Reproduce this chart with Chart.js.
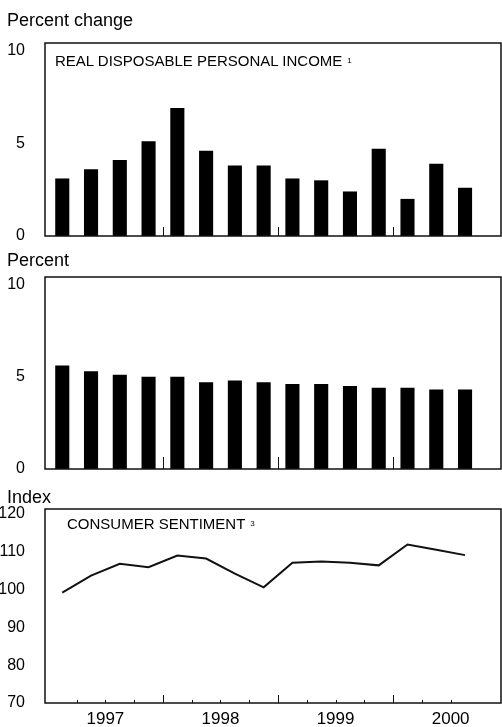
<!DOCTYPE html>
<html>
<head>
<meta charset="utf-8">
<script src="https://cdn.jsdelivr.net/npm/chart.js@4"></script>
<style>
  body { margin: 0; background: #fff; overflow: hidden; }
  #wrap { position: relative; width: 502px; height: 727px; font-family: 'Liberation Sans', Arial, sans-serif; color: #000; }
  #wrap canvas { position: absolute; left: 0; }
  .hdr { position: absolute; left: 7px; font-size: 18px; line-height: 18px; white-space: nowrap; }
  .inner { position: absolute; font-size: 15px; line-height: 15px; white-space: nowrap; }
  .inner span { font-size: 8px; vertical-align: top; margin-left: 5px; }
</style>
</head>
<body>
<div id="wrap">
  <canvas id="income" width="502" height="250" style="top:0"></canvas>
  <canvas id="unemp" width="502" height="250" style="top:240px"></canvas>
  <canvas id="sentiment" width="502" height="247" style="top:480px"></canvas>
  <div class="hdr" style="top:11px">Percent change</div>
  <div class="hdr" style="top:251px">Percent</div>
  <div class="hdr" style="top:488px">Index</div>
  <div class="inner" style="left:55px;top:53px">REAL DISPOSABLE PERSONAL INCOME<span>1</span></div>
  <div class="inner" style="left:67px;top:516px">CONSUMER SENTIMENT<span>3</span></div>
</div>
<script>
// quarterly data, 1997 Q1 - 2000 Q3
const quarters = ['1997 Q1', '1997 Q2', '1997 Q3', '1997 Q4',
                  '1998 Q1', '1998 Q2', '1998 Q3', '1998 Q4',
                  '1999 Q1', '1999 Q2', '1999 Q3', '1999 Q4',
                  '2000 Q1', '2000 Q2', '2000 Q3'];
const years = ['1997', '1998', '1999', '2000'];
const incomeChange = [3.1, 3.6, 4.1, 5.1, 6.9, 4.6, 3.8, 3.8, 3.1, 3.0, 2.4, 4.7, 2.0, 3.9, 2.6];
const unemployment = [5.6, 5.3, 5.1, 5.0, 5.0, 4.7, 4.8, 4.7, 4.6, 4.6, 4.5, 4.4, 4.4, 4.3, 4.3];
const sentiment = [99.2, 103.7, 106.8, 105.9, 109.0, 108.2, 104.2, 100.6, 107.1, 107.4, 107.1, 106.4, 111.9, 110.5, 109.1];
const percentTicks = [0, 5, 10];
const indexTicks = [70, 80, 90, 100, 110, 120];

const FONT = "'Liberation Sans', Arial, sans-serif";

function points(values) {
    return quarters.map((q, i) => ({ x: i + 0.5, y: values[i] }));
}

// frame round the plot area plus small tick marks at quarter / year boundaries
const framePlugin = {
    id: 'frame',
    afterDraw(chart, args, opts) {
        const { ctx, chartArea: a, scales } = chart;
        const xs = scales.x;
        ctx.save();
        ctx.strokeStyle = '#111';
        ctx.lineWidth = 1.5;
        ctx.strokeRect(a.left, a.top, a.right - a.left, a.bottom - a.top);
        ctx.lineWidth = 1;
        for (let q = 1; q < quarters.length; q++) {
            const len = q % 4 === 0 ? opts.yearTick : opts.quarterTick;
            if (!len) continue;
            const px = Math.round(xs.getPixelForValue(q)) + 0.5;
            ctx.beginPath();
            ctx.moveTo(px, a.bottom);
            ctx.lineTo(px, a.bottom - len);
            ctx.stroke();
        }
        ctx.restore();
    }
};

function makeChart(id, type, values, yMin, yMax, yTicks, padding, showYears, tickLens) {
    const ds = type === 'bar'
        ? { data: points(values), backgroundColor: '#000', borderWidth: 0,
            barPercentage: 0.49, categoryPercentage: 1 }
        : { data: points(values), borderColor: '#111', borderWidth: 2,
            pointRadius: 0, tension: 0, fill: false };
    return new Chart(document.getElementById(id), {
        type: type,
        data: { datasets: [ds] },
        options: {
            responsive: false,
            animation: false,
            layout: { padding: padding },
            plugins: { legend: { display: false }, tooltip: { enabled: false }, frame: tickLens },
            scales: {
                x: {
                    type: 'linear',
                    offset: false,
                    min: -0.1,
                    max: 15.75,
                    grid: { display: false, drawTicks: true, tickLength: 6 },
                    border: { display: false },
                    afterBuildTicks: s => { s.ticks = years.map((y, i) => ({ value: i * 4 + 2 })); },
                    afterFit: s => { s.height = showYears ? 24 : 0; },
                    ticks: {
                        display: showYears,
                        padding: 0,
                        maxRotation: 0,
                        autoSkip: false,
                        color: '#000',
                        font: { family: FONT, size: 17 },
                        callback: (v, i) => years[i]
                    }
                },
                y: {
                    min: yMin,
                    max: yMax,
                    grid: { display: false, drawTicks: true, tickLength: 20 },
                    border: { display: false },
                    afterBuildTicks: s => { s.ticks = yTicks.map(v => ({ value: v })); },
                    afterFit: s => { s.width = 45; },
                    ticks: {
                        padding: 0,
                        color: '#000',
                        font: { family: FONT, size: 16 },
                        callback: v => v
                    }
                }
            }
        },
        plugins: [framePlugin]
    });
}

makeChart('income', 'bar', incomeChange, 0, 10.4, percentTicks,
    { top: 43, right: 1, bottom: 14, left: 0 }, false, { yearTick: 9, quarterTick: 0 });
makeChart('unemp', 'bar', unemployment, 0, 10.4, percentTicks,
    { top: 37, right: 1, bottom: 21, left: 0 }, false, { yearTick: 12, quarterTick: 0 });
makeChart('sentiment', 'line', sentiment, 70, 121.3, indexTicks,
    { top: 29, right: 1, bottom: 0, left: 0 }, true, { yearTick: 8, quarterTick: 3 });
</script>
</body>
</html>
